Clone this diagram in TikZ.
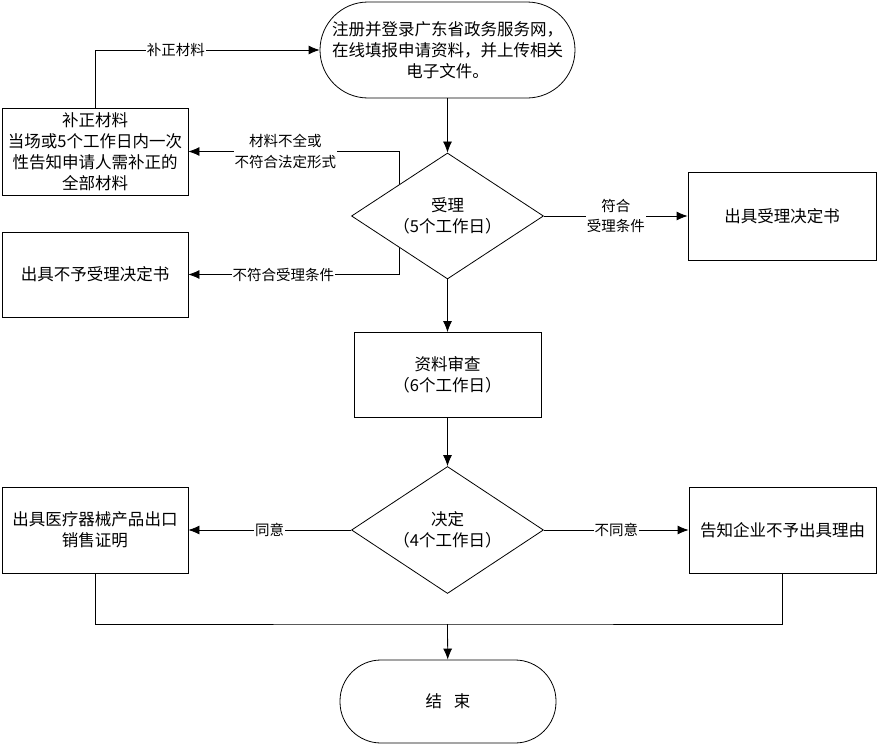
\documentclass[tikz,border=0pt]{standalone}
\usepackage{fontspec}
\newfontfamily\cjk{Noto Sans CJK SC}
\usetikzlibrary{shapes.geometric,arrows.meta}
\begin{document}
\begin{tikzpicture}[x=1pt,y=-1pt,line width=.8pt,>={Latex[length=11pt,width=9pt]},
	box/.style={draw,align=center,inner sep=0pt,minimum width=186pt,minimum height=86pt,font=\cjk\fontsize{16.5}{21}\selectfont},
	term/.style={box,rounded corners=#1},
	check/.style={box,shape=diamond,aspect=1.5,minimum width=192pt,minimum height=126pt},
	lbl/.style={fill=white,inner sep=1pt,align=center,font=\cjk\fontsize{14.5}{20.5}\selectfont}]
			\useasboundingbox (0,0) rectangle (878,744);
			\node[term=48pt,minimum width=255pt,minimum height=96pt] (start) at (447.5,50) {注册并登录广东省政务服务网，\\在线填报申请资料，并上传相关\\电子文件。};
			\node[check] (shouli) at (447.5,216) {受理\\（5个工作日）};
			\node[box,minimum height=87pt] (buzheng) at (95,151.5) {补正材料\\当场或5个工作日内一次\\性告知申请人需补正的\\全部材料};
			\node[box,minimum height=85pt] (buyu) at (95,274.5) {出具不予受理决定书};
			\node[box,minimum width=188pt,minimum height=88pt] (shouliok) at (782,216) {出具受理决定书};
			\node[box,minimum width=187pt,minimum height=85pt] (shencha) at (447.5,375) {资料审查\\（6个工作日）};
			\node[check,minimum height=127pt] (jueding) at (447.5,530) {决定\\（4个工作日）};
			\node[box] (zhengming) at (95,530) {出具医疗器械产品出口\\销售证明};
			\node[box,minimum width=187pt] (gaozhi) at (782.5,530) {告知企业不予出具理由};
			\node[term=41pt,minimum width=216pt,minimum height=83pt] (jieshu) at (448,701.5) {结\hspace{.7em}束};
			\coordinate (hui) at (447.5,624);
			\draw[->] (start) -- (shouli);
			\draw[->] (buzheng.north) |- node[lbl,pos=.68]{补正材料} (start.west);
			\draw[->] (shouli.north west) |- node[lbl,pos=.77]{材料不全或\\不符合法定形式} (buzheng.east);
			\draw[->] (shouli.south west) |- node[lbl,pos=.775]{不符合受理条件} (buyu.east);
			\draw[->] (shouli) -- node[lbl]{符合\\受理条件} (shouliok);
			\draw[->] (shouli) -- (shencha);
			\draw[->] (shencha) -- (jueding);
			\draw[->] (jueding) -- node[lbl]{同意} (zhengming);
			\draw[->] (jueding) -- node[lbl]{不同意} (gaozhi);
			\draw (zhengming.south) |- (hui) -| (gaozhi.south);
			\draw[->] (hui) -- (jieshu);
		\end{tikzpicture}
\end{document}
